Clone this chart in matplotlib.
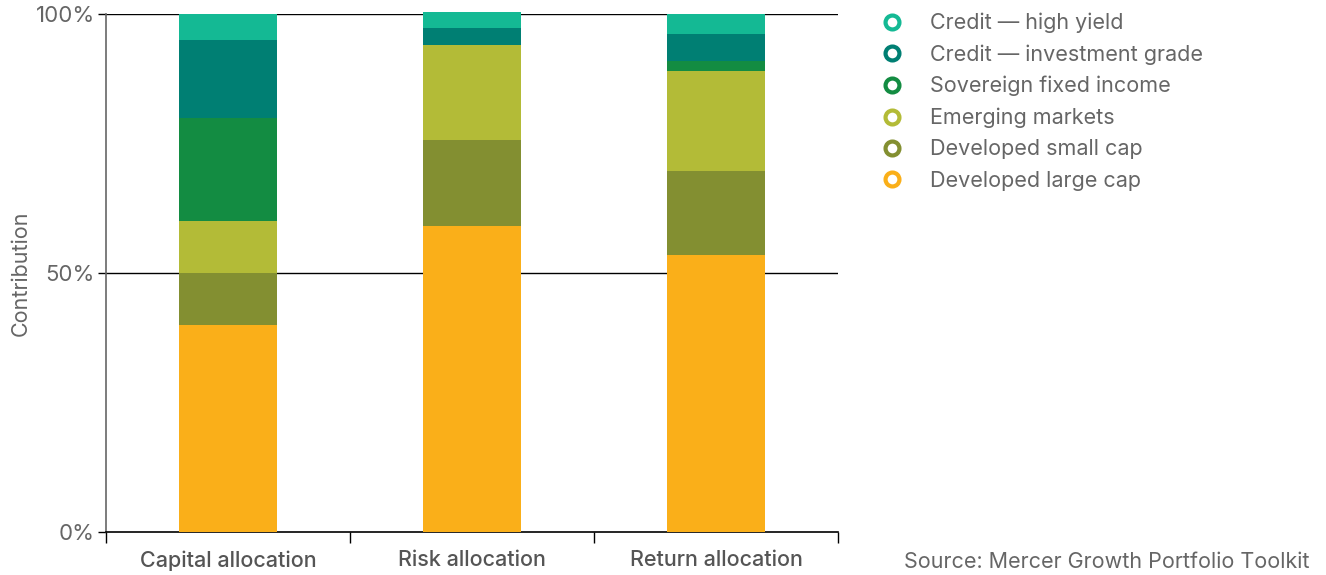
import matplotlib
matplotlib.use("Agg")
import matplotlib.pyplot as plt
from matplotlib.lines import Line2D
import numpy as np


CATEGORIES = ["Capital allocation", "Risk allocation", "Return allocation"]

# Stack order: bottom to top
SERIES = [
    "Developed large cap",
    "Developed small cap",
    "Emerging markets",
    "Sovereign fixed income",
    "Credit \u2014 investment grade",
    "Credit \u2014 high yield",
]

LARGE_CAP = [40.0, 59.0, 53.5]
SMALL_CAP = [10.0, 16.7, 16.2]
EMERGING = [10.0, 18.3, 19.3]
SOVEREIGN = [20.0, 0.0, 1.9]
CREDIT_IG = [15.0, 3.3, 5.2]
CREDIT_HY = [5.0, 3.1, 3.9]

COLORS = ["#FAAF19", "#838F31", "#B3BB37", "#138C42", "#007F73", "#14B994"]

Y_TICKS = [0, 50, 100]
Y_TICK_LABELS = ["0%", "50%", "100%"]

SOURCE = "Source: Mercer Growth Portfolio Toolkit"

GRAY = "#666666"

plt.rcParams["font.family"] = ["Inter", "DejaVu Sans"]

fig = plt.figure(figsize=(13.26, 5.75), dpi=100)
ax = fig.add_axes([106 / 1326, 1 - 532 / 575, (838 - 106) / 1326, (532 - 14) / 575])

values = [LARGE_CAP, SMALL_CAP, EMERGING, SOVEREIGN, CREDIT_IG, CREDIT_HY]
x = np.arange(len(CATEGORIES))
bottom = np.zeros(len(CATEGORIES))

for name, vals, color in zip(SERIES, values, COLORS):
    vals = np.array(vals)
    ax.bar(x, vals, width=0.4, bottom=bottom, color=color, label=name,
           zorder=3, clip_on=False, linewidth=0)
    bottom += vals

ax.set_xlim(-0.5, len(CATEGORIES) - 0.5)
ax.set_ylim(0, 100)

# horizontal rules at 50% and 100%
for yv in Y_TICKS[1:]:
    ax.axhline(yv, color="black", linewidth=1.0, zorder=1)

ax.set_yticks(Y_TICKS)
ax.set_yticklabels(Y_TICK_LABELS)
ax.tick_params(axis="y", length=6, width=1.0, color="black", labelsize=16,
               labelcolor=GRAY, pad=2)

# x ticks at category boundaries, labels at centres
ax.set_xticks(np.arange(len(CATEGORIES) + 1) - 0.5)
ax.set_xticklabels([])
ax.set_xticks(x, minor=True)
ax.set_xticklabels(CATEGORIES, minor=True)
ax.tick_params(axis="x", which="major", length=8, width=1.0, color="black")
ax.tick_params(axis="x", which="minor", length=0, labelsize=15.5,
               labelcolor="#555555", pad=13)
for lbl in ax.get_xticklabels(minor=True):
    lbl.set_fontweight("medium")

ax.spines["top"].set_visible(False)
ax.spines["right"].set_visible(False)
ax.spines["left"].set_color(GRAY)
ax.spines["left"].set_linewidth(1.2)
ax.spines["bottom"].set_color("black")
ax.spines["bottom"].set_linewidth(1.2)

ax.set_ylabel("Contribution", fontsize=15.5, color=GRAY)
ax.yaxis.set_label_coords((31 - 106) / 732, 0.5)

handles = [
    Line2D([], [], linestyle="none", marker="o", markersize=10,
           markerfacecolor="white", markeredgecolor=c, markeredgewidth=3)
    for c in COLORS
]
leg = fig.legend(handles[::-1], SERIES[::-1], loc="upper left",
                 bbox_to_anchor=(873 / 1326, 1 - 4 / 575), frameon=False,
                 fontsize=15.5, labelcolor=GRAY, handletextpad=1.25,
                 labelspacing=0.52, handlelength=1.0, borderaxespad=0)

fig.text(1310 / 1326, 1 - 562 / 575, SOURCE, ha="right", va="center",
         fontsize=15.5, color=GRAY)

fig.savefig("out.png", dpi=100)
